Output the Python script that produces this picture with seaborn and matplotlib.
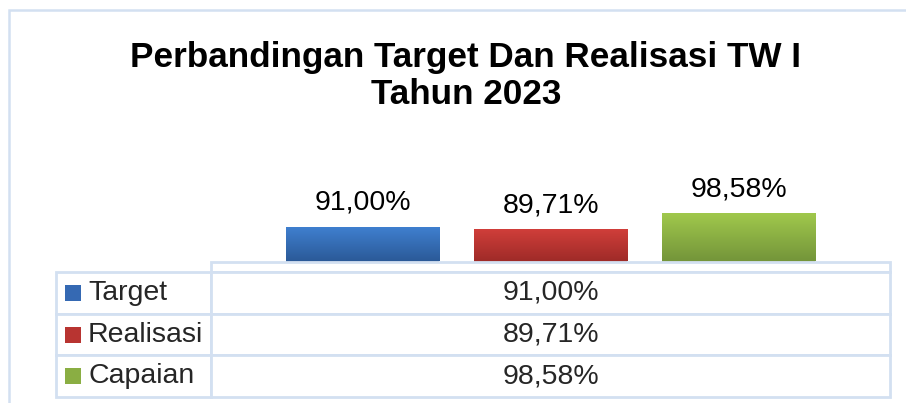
import numpy as np
import pandas as pd
import matplotlib
matplotlib.use("Agg")
import matplotlib.pyplot as plt
from matplotlib.colors import LinearSegmentedColormap
from matplotlib.patches import Rectangle
import seaborn as sns

# Data
series = ["Target", "Realisasi", "Capaian"]
values = [91.00, 89.71, 98.58]
category = [""]
title_lines = ["Perbandingan Target Dan Realisasi TW I", "Tahun 2023"]

# Colours (top / bottom of the gradient)
top_colors = ["#3f7fcf", "#d03e3a", "#a0c84c"]
bottom_colors = ["#2b5a98", "#9f2b28", "#74953a"]
mid_colors = ["#3569b3", "#b83431", "#8aae43"]
grid_blue = "#d3e0f1"

df = pd.DataFrame({"kategori": category * len(series), "seri": series, "nilai": values})

def fmt(v):
    return f"{v:.2f}%".replace(".", ",")

sns.set_theme(style="white")
plt.rcParams["font.family"] = ["Liberation Sans", "DejaVu Sans"]

W, H = 906, 403
fig = plt.figure(figsize=(W / 100, H / 100), dpi=100)
fig.patch.set_facecolor("white")

# plot area in pixels
px_left, px_right, px_top, px_bottom = 211, 890, 140, 261.5
ax = fig.add_axes([px_left / W, (H - px_bottom) / H,
                   (px_right - px_left) / W, (px_bottom - px_top) / H])

sns.barplot(data=df, x="kategori", y="nilai", hue="seri", hue_order=series,
            palette=mid_colors, width=0.831, gap=0.186, legend=False, ax=ax,
            edgecolor="none", linewidth=0, errorbar=None)
y_min, y_max = 72, 140.4
ax.set_xlim(-0.5, 0.5)
ax.set_ylim(y_min, y_max)
ax.set_axis_off()

# gradient fill on the bars + value labels
bars = [p for p in ax.patches if p.get_height() > 0]
for i, p in enumerate(bars):
    x0, w, h = p.get_x(), p.get_width(), p.get_height()
    y1 = p.get_y() + h
    cmap = LinearSegmentedColormap.from_list("g", [bottom_colors[i], top_colors[i]])
    grad = np.linspace(0, 1, 100).reshape(-1, 1)
    im = ax.imshow(grad, cmap=cmap, aspect="auto", origin="lower",
                   extent=(x0, x0 + w, y_min, y1), zorder=p.get_zorder() + 0.1)
    ax.annotate(fmt(values[i]), xy=(x0 + w / 2, y1), xytext=(0, 18),
                textcoords="offset points", ha="center", va="center",
                fontsize=20.5, color="black")
ax.set_xlim(-0.5, 0.5)
ax.set_ylim(y_min, y_max)

# data table below the plot
tbl_left, tbl_div, tbl_right = 56, 211, 890
tbl_top, hdr_bottom, tbl_bottom = 261.5, 272, 397
ax_w = px_right - px_left
ax_h = px_bottom - px_top
cell_text = [[s, fmt(v)] for s, v in zip(series, values)]
table = ax.table(cellText=cell_text, colLabels=["", ""], cellLoc="center",
                 bbox=[(tbl_left - px_left) / ax_w, (px_bottom - tbl_bottom) / ax_h,
                       (tbl_right - tbl_left) / ax_w, (tbl_bottom - tbl_top) / ax_h])
table.auto_set_font_size(False)
table.set_fontsize(20.5)
table.set_zorder(6)
row_h = (tbl_bottom - hdr_bottom) / len(series)
for (r, c), cell in table.get_celld().items():
    cell.set_edgecolor(grid_blue)
    cell.set_linewidth(2.0)
    cell.set_facecolor("white")
    cell.set_width(tbl_div - tbl_left if c == 0 else tbl_right - tbl_div)
    cell.set_height(hdr_bottom - tbl_top if r == 0 else row_h)
    if c == 0:
        cell.get_text().set_ha("left")
        cell.PAD = (88 - tbl_left) / (tbl_div - tbl_left)
    if r == 0 and c == 0:
        cell.set_visible(False)

# legend keys in the row header cells
sq = 16
for i, col in enumerate(mid_colors):
    yc = hdr_bottom + row_h * (i + 0.5)
    key = Rectangle(((65 - px_left) / ax_w, (px_bottom - yc - sq / 2) / ax_h),
                    sq / ax_w, sq / ax_h, transform=ax.transAxes,
                    facecolor=col, edgecolor="none", clip_on=False, zorder=7)
    ax.add_patch(key)

# chart border
fig.add_artist(Rectangle((9 / W, -0.1), 1.2, (H - 10) / H + 0.1,
                         transform=fig.transFigure, facecolor="none",
                         edgecolor=grid_blue, linewidth=1.8))

# title
fig.text(466 / W, (H - 58) / H, title_lines[0], ha="center", va="center",
         fontsize=25.3, fontweight="bold", color="black")
fig.text(466 / W, (H - 94) / H, title_lines[1], ha="center", va="center",
         fontsize=25.3, fontweight="bold", color="black")

fig.savefig("out.png", dpi=100)
